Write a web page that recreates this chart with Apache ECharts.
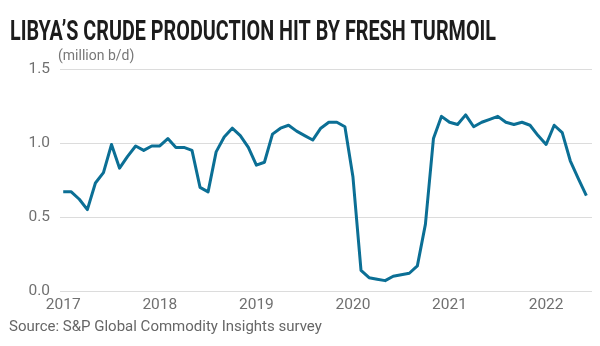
<!DOCTYPE html>
<html>
<head>
<meta charset="utf-8">
<script src="https://cdn.jsdelivr.net/npm/echarts@6/dist/echarts.min.js"></script>
<style>
  html, body { margin: 0; padding: 0; background: #ffffff; }
  #chart { width: 600px; height: 346px; }
</style>
</head>
<body>
<div id="chart"></div>
<script>
// Libya crude output, monthly, Jan 2017 – Jun 2022 (million b/d)
const startYear = 2017;
const yearLabels = ['2017', '2018', '2019', '2020', '2021', '2022'];
const production = [
  // 2017
  0.67, 0.67, 0.62, 0.55, 0.73, 0.80, 0.99, 0.83, 0.91, 0.98, 0.95, 0.98,
  // 2018
  0.98, 1.03, 0.97, 0.97, 0.95, 0.70, 0.67, 0.94, 1.04, 1.10, 1.05, 0.97,
  // 2019
  0.85, 0.87, 1.06, 1.10, 1.12, 1.08, 1.05, 1.02, 1.10, 1.14, 1.14, 1.11,
  // 2020
  0.77, 0.14, 0.09, 0.08, 0.07, 0.10, 0.11, 0.12, 0.17, 0.45, 1.03, 1.18,
  // 2021
  1.14, 1.125, 1.19, 1.11, 1.14, 1.16, 1.18, 1.14, 1.125, 1.14, 1.12, 1.05,
  // 2022
  0.99, 1.12, 1.07, 0.88, 0.76, 0.645
];
const yTicks = [0, 0.5, 1.0, 1.5];

const titleText = 'LIBYA\u2019S CRUDE PRODUCTION HIT BY FRESH TURMOIL';
const sourceText = 'Source: S&P Global Commodity Insights survey';
const unitText = '(million b/d)';

// x position = months since Jan of the first year
const points = production.map((v, i) => [i, v]);
const yearTickValues = yearLabels.map((_, i) => i * 12);

// Headline is set in a condensed cut: squeeze a bold sans to the target width
const titleFont = 'bold 28px Roboto';
const measureCtx = document.createElement('canvas').getContext('2d');
measureCtx.font = titleFont;
const titleWidth = measureCtx.measureText(titleText).width;
const titleScale = 486 / titleWidth;

const chart = echarts.init(document.getElementById('chart'), null, { renderer: 'canvas' });
chart.setOption({
  backgroundColor: '#ffffff',
  animation: false,
  graphic: [
    {
      type: 'text', left: 10, top: 19, scaleX: titleScale, originX: 0,
      style: { text: titleText, font: titleFont, fill: '#1c1c1c' }
    },
    {
      type: 'text', left: 9, top: 320,
      style: { text: sourceText, font: '15px Roboto', fill: '#666666' }
    },
    {
      type: 'text', left: 58, top: 49,
      style: { text: unitText, font: '14px Roboto', fill: '#777777' }
    }
  ],
  grid: { left: 60, right: 8, top: 69, bottom: 55 },
  xAxis: {
    type: 'value',
    min: -0.4,
    max: 65.7,
    axisLine: { show: false },
    axisTick: { show: false },
    splitLine: { show: false },
    axisLabel: {
      customValues: yearTickValues,
      formatter: v => String(startYear + Math.round(v / 12)),
      color: '#707070',
      fontFamily: 'Roboto',
      fontSize: 15.5,
      margin: 6
    }
  },
  yAxis: {
    type: 'value',
    min: 0,
    max: 1.5,
    interval: 0.5,
    axisLine: { show: false },
    axisTick: { show: false },
    splitLine: { lineStyle: { color: '#dcdcdc', width: 1 } },
    axisLabel: {
      formatter: v => yTicks.includes(v) ? v.toFixed(1) : '',
      color: '#707070',
      fontFamily: 'Roboto',
      fontSize: 15.5,
      margin: 10,
      verticalAlign: 'middle',
      padding: [3, 0, 0, 0]
    }
  },
  series: [{
    type: 'line',
    data: points,
    showSymbol: false,
    symbol: 'none',
    lineStyle: { color: '#0b6f95', width: 3, join: 'round' },
    z: 3
  }]
});
</script>
</body>
</html>
